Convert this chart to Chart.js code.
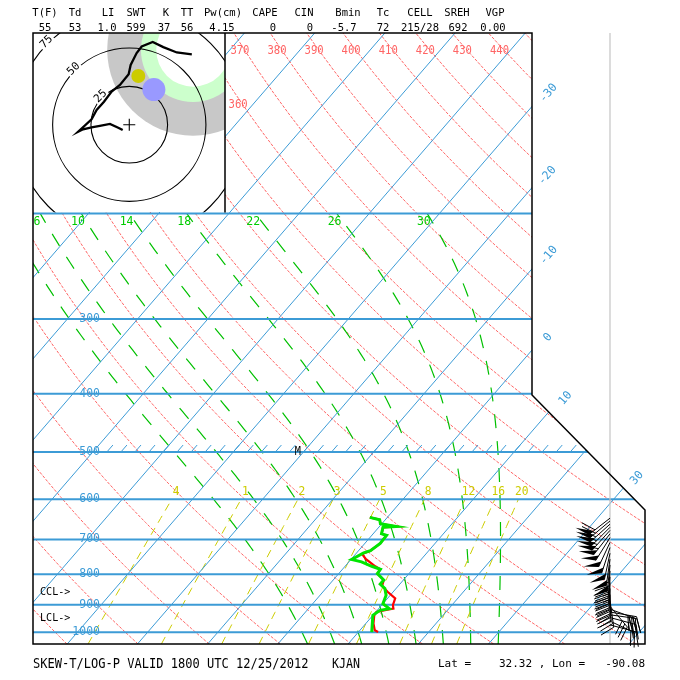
<!DOCTYPE html>
<html>
<head>
<meta charset="utf-8">
<script src="https://cdn.jsdelivr.net/npm/chart.js@4.4.1/dist/chart.umd.min.js"></script>
<style>
html,body{margin:0;padding:0;background:#ffffff;overflow:hidden;}
canvas{display:block;}
</style>
</head>
<body>
<canvas id="c" width="680" height="680"></canvas>
<script>
// ================= values =================
const headerNames  = ['T(F)','Td','LI','SWT','K','TT','Pw(cm)','CAPE','CIN','Bmin','Tc','CELL','SREH','VGP'];
const headerValues = ['55','53','1.0','599','37','56','4.15','0','0','-5.7','72','215/28','692','0.00'];

const isobarLevels    = [200,300,400,500,600,700,800,900,1000];
const isobarLabels    = [300,400,500,600,700,800,900,1000];
const isothermTemps   = [-110,-100,-90,-80,-70,-60,-50,-40,-30,-20,-10,0,10,20,30,40,50];
const isothermLabelT  = [-30,-20,-10,0,10,30];
const isothermLabelP  = [126,173,235,322,407,553];
const dryThetas       = [230,240,250,260,270,280,290,300,310,320,330,340,350,360,370,380,390,400,410,420,430,440,450,460];
const dryLabelThetas  = [360,370,380,390,400,410,420,430,440];
const dryLabelP       = [132,107,107,107,107,107,107,107,107];
const moistThetaW     = [2,6,10,14,18,22,26,30];
const moistLabelThetaW= [6,10,14,18,22,26,30];
const mixRatios       = [0.4,1,2,3,5,8,12,16,20];
const mixLabels       = ['4','1','2','3','5','8','12','16','20'];
const tick500Temps    = [-48,-46,-44,-42,-40,-38,-36,-34,-32,-30,-28,-26,-24,-22,-20,-18,-16,-14,-12,-10,-8,-6,-4,-2,0,2,4,6,8,10,12,14,16,18,20];

// sounding (hPa, deg C)
const tempP = [999,992,967,937,925,917,913,901,878,856,837,818,798,785,776,755,740,731,711,689,685,668,666,659,649,643];
const tempC = [12.8,12.1,11.1,10.2,10.1,11.4,12.1,11.6,11.1,9.2,7.7,7.2,5.5,5.4,4.3,2.1,0.9,1.7,2.2,2.1,1.2,0.6,2.4,-0.2,-0.8,-2.5];
const dewP  = [999,937,919,913,896,867,845,831,818,798,785,776,763,756,737,731,711,689,685,668,666,659,649,643];
const dewC  = [11.9,10.0,10.4,11.5,10.0,9.4,8.4,7.2,7.2,5.5,5.4,3.8,1.8,0.1,1.0,1.7,2.2,2.1,1.2,0.6,2.4,-0.2,-0.8,-2.5];

// wind barbs (hPa, direction deg, knots)
const barbP   = [645,652,660,668,676,685,695,708,722,738,755,772,790,808,826,845,865,885,905,915,925,935,945,958,972];
const barbDir = [232,230,228,225,222,218,212,205,198,192,188,186,184,183,182,180,178,172,140,110,100,98,105,115,105];
const barbKt  = [60,60,55,55,55,55,50,50,50,50,50,50,45,45,45,45,40,40,30,30,30,30,25,20,15];

// hodograph (knots)
const hodoU = [-4.3,-7.2,-12.6,-19.2,-24.6,-30.1,-33.3,-24.6,-21.3,-16.5,-11.5,-6.1,-0.4,0.9,4.8,8.1,15.3,22.2,31.0,40.8];
const hodoV = [-3.5,-2.0,0.5,-0.7,-1.7,-3.0,-4.6,3.5,9.6,15.0,21.6,25.9,32.9,39.0,46.7,51.0,53.9,50.6,47.1,45.8];
const hodoRings = [25,50,75];
const cellDir = 215, cellKt = 28;
const altMotionU = 5.9, altMotionV = 31.8;
const zoneU = 41.6, zoneV = 48.8;
const zoneR = [24,34,56];

const cclP = 857, lclP = 946;
const markM = {T:-20.8, p:500};

// ================= geometry / thermodynamics =================
const P_TOP = 100, P_BOT = 1046, SKEW = 32.05, KAPPA = 0.2857;
const FRAME = [[33,212],[225,212],[225,33],[532,33],[532,395],[645,510],[645,644],[33,644]];
const HB = {l:33,t:33,r:225,b:212.5};
const BLUE='#3c9bd6', RED='#ff6464', GREEN='#00c000', YEL='#cccc00';
const FONT='"DejaVu Sans Mono", "Liberation Mono", monospace';

function sx(T,p){ return T + SKEW*Math.log(1000/p); }
function esat(T){ return 6.112*Math.exp(17.67*T/(T+243.5)); }
function rsat(T,p){ const e=esat(T); return 0.622*e/(p-e); }
function dTdp(T,p){
  const Tk=T+273.15, r=rsat(T,p), Rd=287.04, cp=1005.7, L=2.501e6, eps=0.622;
  return ((Rd*Tk+L*r)/p)/(cp+(L*L*r*eps)/(Rd*Tk*Tk));
}
function moistLine(thw){
  const lower=[]; let T=thw, p=1000;
  lower.push({p,T});
  while(p<P_BOT){ const h=Math.min(2,P_BOT-p); const k1=dTdp(T,p), k2=dTdp(T+k1*h,p+h); T+=0.5*(k1+k2)*h; p+=h; lower.push({p,T}); }
  const upper=[]; T=thw; p=1000;
  while(p>200){ const h=-Math.min(2,p-200); const k1=dTdp(T,p), k2=dTdp(T+k1*h,p+h); T+=0.5*(k1+k2)*h; p+=h; upper.push({p,T}); }
  return lower.reverse().concat(upper);
}
function tFromE(e){ const l=Math.log(e/6.112); return 243.5*l/(17.67-l); }
function mixT(w,p){ return tFromE(w*p/(622+w)); }
function dryT(th,p){ return th*Math.pow(p/1000,KAPPA)-273.15; }

// ================= datasets =================
const ds=[];
function line(data,color,width,dash,order,clipMode,extra){
  ds.push(Object.assign({data,borderColor:color,backgroundColor:color,borderWidth:width,borderDash:dash||[],
    showLine:true,pointRadius:0,pointHoverRadius:0,pointHitRadius:0,tension:0,fill:false,order,clipMode,
    xAxisID:'x',yAxisID:'y'},extra||{}));
}
// dry adiabats
const dryLevels=[]; for(let p=P_BOT;p>P_TOP;p-=10) dryLevels.push(p); dryLevels.push(P_TOP);
dryThetas.forEach(th=>line(dryLevels.map(p=>({x:sx(dryT(th,p),p),y:p})),RED,1,[3,1.5],14,'grid'));
// moist adiabats
const moistCache={};
moistThetaW.forEach(tw=>{ const pts=moistLine(tw); moistCache[tw]=pts;
  line(pts.filter((q,i)=>i%3===0||i===pts.length-1).map(q=>({x:sx(q.T,q.p),y:q.p})),GREEN,1.2,[14,13],13,'grid'); });
// mixing ratio lines
const mixLevels=[]; for(let p=P_BOT;p>600;p-=20) mixLevels.push(p); mixLevels.push(600);
mixRatios.forEach(w=>line(mixLevels.map(p=>({x:sx(mixT(w,p),p),y:p})),YEL,1,[8,6],12,'grid'));
// isotherms
isothermTemps.forEach(T=>line([{x:sx(T,P_BOT),y:P_BOT},{x:sx(T,P_TOP),y:P_TOP}],BLUE,1,[],11,'grid'));
// 500 hPa ticks
tick500Temps.forEach(T=>line([{x:sx(T,500),y:500},{x:sx(T,487),y:487}],BLUE,1,[],11,'grid'));
// isobars
isobarLevels.forEach(p=>line([{x:-40,y:p},{x:60,y:p}],BLUE,2,[],10,'grid'));
// sounding
line(tempP.map((p,i)=>({x:sx(tempC[i],p),y:p})),'#ff0000',2.2,[],2,null);
line(dewP.map((p,i)=>({x:sx(dewC[i],p),y:p})),'#00e600',3,[],1,null);
// hodograph trace
line(hodoU.map((u,i)=>({x:u,y:hodoV[i]})),'#000000',2.3,[],3,'hodo',{xAxisID:'hu',yAxisID:'hv'});
// storm motions
const cr=cellDir*Math.PI/180;
ds.push({data:[{x:-cellKt*Math.sin(cr),y:-cellKt*Math.cos(cr)}],showLine:false,pointRadius:11.5,pointBorderWidth:0,
  pointBackgroundColor:'#9999ff',borderColor:'#9999ff',order:4,clipMode:'hodo',xAxisID:'hu',yAxisID:'hv'});
ds.push({data:[{x:altMotionU,y:altMotionV}],showLine:false,pointRadius:7,pointBorderWidth:0,
  pointBackgroundColor:'#cccc00',borderColor:'#cccc00',order:4,clipMode:'hodo',xAxisID:'hu',yAxisID:'hv'});

// ================= drawing helpers =================
function txt(ctx,s,x,y,o){
  o=o||{}; ctx.save(); ctx.translate(x,y); if(o.rot) ctx.rotate(o.rot); ctx.scale(o.sx||1,1);
  ctx.font=(o.size||11)+'px '+FONT; ctx.fillStyle=o.color||'#000'; ctx.textAlign=o.align||'center'; ctx.textBaseline='middle';
  ctx.fillText(s,0,0); ctx.restore();
}
function framePath(ctx){ ctx.beginPath(); FRAME.forEach((q,i)=>i?ctx.lineTo(q[0],q[1]):ctx.moveTo(q[0],q[1])); ctx.closePath(); }
function drawBarb(ctx,x0,y0,dir,kt){
  const L=27, FL=15, SP=4, a=dir*Math.PI/180;
  const ux=Math.sin(a), uy=-Math.cos(a);           // toward where wind comes from
  const fx=0.4*ux+0.917*(-uy), fy=0.4*uy+0.917*ux;  // feather direction
  const tx=x0+ux*L, ty=y0+uy*L;
  ctx.beginPath(); ctx.moveTo(x0,y0); ctx.lineTo(tx,ty); ctx.stroke();
  let s=Math.round(kt/5)*5, d=0;
  while(s>=50){ const bx=tx-ux*d, by=ty-uy*d;
    ctx.beginPath(); ctx.moveTo(bx,by); ctx.lineTo(bx+fx*FL,by+fy*FL); ctx.lineTo(bx-ux*SP*1.5,by-uy*SP*1.5); ctx.closePath(); ctx.fill();
    d+=SP*2; s-=50; }
  while(s>=10){ const bx=tx-ux*d, by=ty-uy*d; ctx.beginPath(); ctx.moveTo(bx,by); ctx.lineTo(bx+fx*FL,by+fy*FL); ctx.stroke(); d+=SP; s-=10; }
  if(s>=5){ if(d===0) d=SP; const bx=tx-ux*d, by=ty-uy*d; ctx.beginPath(); ctx.moveTo(bx,by); ctx.lineTo(bx+fx*FL/2,by+fy*FL/2); ctx.stroke(); }
}

const skewPlugin={
  id:'skewt',
  beforeDatasetsDraw(chart){
    const ctx=chart.ctx, hu=chart.scales.hu, hv=chart.scales.hv;
    const k=hu.getPixelForValue(1)-hu.getPixelForValue(0);
    ctx.save(); ctx.beginPath(); ctx.rect(HB.l,HB.t,HB.r-HB.l,HB.b-HB.t); ctx.clip();
    const zx=hu.getPixelForValue(zoneU), zy=hv.getPixelForValue(zoneV);
    [['#c8c8c8',zoneR[2]],['#ccffcc',zoneR[1]],['#ffffff',zoneR[0]]].forEach(([c,r])=>{ctx.fillStyle=c;ctx.beginPath();ctx.arc(zx,zy,r*k,0,2*Math.PI);ctx.fill();});
    const ox=hu.getPixelForValue(0), oy=hv.getPixelForValue(0);
    ctx.strokeStyle='#000'; ctx.lineWidth=1.1;
    hodoRings.forEach(s=>{ctx.beginPath();ctx.arc(ox,oy,s*k,0,2*Math.PI);ctx.stroke();});
    ctx.beginPath(); ctx.moveTo(ox-6,oy); ctx.lineTo(ox+6,oy); ctx.moveTo(ox,oy-6); ctx.lineTo(ox,oy+6); ctx.stroke();
    hodoRings.forEach(s=>{ const r=s*k+2; const px=ox-r*Math.SQRT1_2, py=oy-r*Math.SQRT1_2;
      ctx.save(); ctx.fillStyle='#fff'; ctx.translate(px,py); ctx.rotate(-Math.PI/4); ctx.fillRect(-8,-5,16,10); ctx.restore();
      txt(ctx,String(s),px,py,{size:11,rot:-Math.PI/4,color:'#000'}); });
    ctx.restore();
  },
  beforeDatasetDraw(chart,args){
    const d=chart.data.datasets[args.index], ctx=chart.ctx;
    if(d.clipMode==='grid'){ ctx.save(); framePath(ctx); ctx.clip(); }
    else if(d.clipMode==='hodo'){ ctx.save(); ctx.beginPath(); ctx.rect(HB.l,HB.t,HB.r-HB.l,HB.b-HB.t); ctx.clip(); }
  },
  afterDatasetDraw(chart,args){
    const d=chart.data.datasets[args.index];
    if(d.clipMode) chart.ctx.restore();
  },
  afterDatasetsDraw(chart){
    const ctx=chart.ctx, xs=chart.scales.x, ys=chart.scales.y;
    const X=(T,p)=>xs.getPixelForValue(sx(T,p)), Y=p=>ys.getPixelForValue(p);
    // barb column
    ctx.save(); ctx.strokeStyle='#c4c4c4'; ctx.lineWidth=1.2; ctx.beginPath(); ctx.moveTo(610,33); ctx.lineTo(610,644); ctx.stroke(); ctx.restore();
    // frame
    ctx.save(); ctx.strokeStyle='#000'; ctx.lineWidth=1.5; ctx.beginPath();
    ctx.moveTo(33,33); ctx.lineTo(532,33); ctx.lineTo(532,395); ctx.lineTo(645,510); ctx.lineTo(645,644); ctx.lineTo(33,644); ctx.closePath();
    ctx.moveTo(225,33); ctx.lineTo(225,212.5); ctx.stroke(); ctx.restore();
    // header
    const hx=[45,75,108,136,166,187,223,265,304,348,383,420,457,495];
    const vx=[45,75,107,136,164,187,222,273,310,344,383,420,458,493];
    headerNames.forEach((s,i)=>txt(ctx,s,hx[i],13,{size:10.5,sx:1.0}));
    headerValues.forEach((s,i)=>txt(ctx,s,vx[i],28,{size:10.5,sx:1.0}));
    // isobar labels
    isobarLabels.forEach(p=>txt(ctx,String(p),100,Y(p),{size:11.5,color:BLUE,align:'right'}));
    // isotherm labels
    isothermLabelT.forEach((T,i)=>txt(ctx,String(T),X(T,isothermLabelP[i])+5,Y(isothermLabelP[i]),{size:11.5,color:BLUE,rot:-0.86}));
    // dry adiabat labels
    dryLabelThetas.forEach((th,i)=>{const p=dryLabelP[i]; txt(ctx,String(th),X(dryT(th,p),p)-5,Y(p),{size:12,sx:0.88,color:RED});});
    // moist adiabat labels
    moistLabelThetaW.forEach(tw=>{ const pts=moistCache[tw]; let best=pts[0];
      pts.forEach(q=>{ if(Math.abs(q.p-206.8)<Math.abs(best.p-206.8)) best=q; });
      txt(ctx,String(tw),Math.max(37,X(best.T,best.p)-8),Y(206.8),{size:11.5,color:'#00cc00'}); });
    // mixing ratio labels
    mixRatios.forEach((w,i)=>txt(ctx,mixLabels[i],X(mixT(w,583),583),Y(583),{size:12.5,sx:0.9,color:YEL}));
    // annotations
    txt(ctx,'CCL->',40,Y(cclP),{size:11,sx:0.92,align:'left'});
    txt(ctx,'LCL->',40,Y(lclP),{size:11,sx:0.92,align:'left'});
    txt(ctx,'M',X(markM.T,markM.p),Y(markM.p),{size:12,sx:0.85});
    // wind barbs
    ctx.save(); ctx.strokeStyle='#000'; ctx.fillStyle='#000'; ctx.lineWidth=1;
    barbP.forEach((p,i)=>drawBarb(ctx,610,Y(p),barbDir[i],barbKt[i]));
    ctx.restore();
    // footer
    txt(ctx,'SKEW-T/LOG-P VALID 1800 UTC 12/25/2012',33,664,{size:14,sx:0.86,align:'left'});
    txt(ctx,'KJAN',332,664,{size:14,sx:0.83,align:'left'});
    txt(ctx,'Lat =',438,664,{size:11,sx:1.0,align:'left'});
    txt(ctx,'32.32',532,664,{size:11,sx:1.0,align:'right'});
    txt(ctx,',',542,664,{size:11,align:'center'});
    txt(ctx,'Lon =',552,664,{size:11,sx:1.0,align:'left'});
    txt(ctx,'-90.08',645,664,{size:11,sx:1.0,align:'right'});
  }
};

new Chart(document.getElementById('c'),{
  type:'scatter',
  data:{datasets:ds},
  options:{
    responsive:false, animation:false, devicePixelRatio:1, events:[],
    layout:{padding:{left:33,top:33,right:35,bottom:36}},
    plugins:{legend:{display:false},tooltip:{enabled:false}},
    scales:{
      x:{type:'linear',min:-36.32,max:50.85,display:false,bounds:'data'},
      y:{type:'logarithmic',reverse:true,min:P_TOP,max:P_BOT,display:false},
      hu:{type:'linear',axis:'x',position:'bottom',min:-62.8,max:336.4,display:false,bounds:'data'},
      hv:{type:'linear',axis:'y',position:'left',min:-338.7,max:59.8,display:false,bounds:'data'}
    }
  },
  plugins:[skewPlugin]
});
</script>
</body>
</html>
